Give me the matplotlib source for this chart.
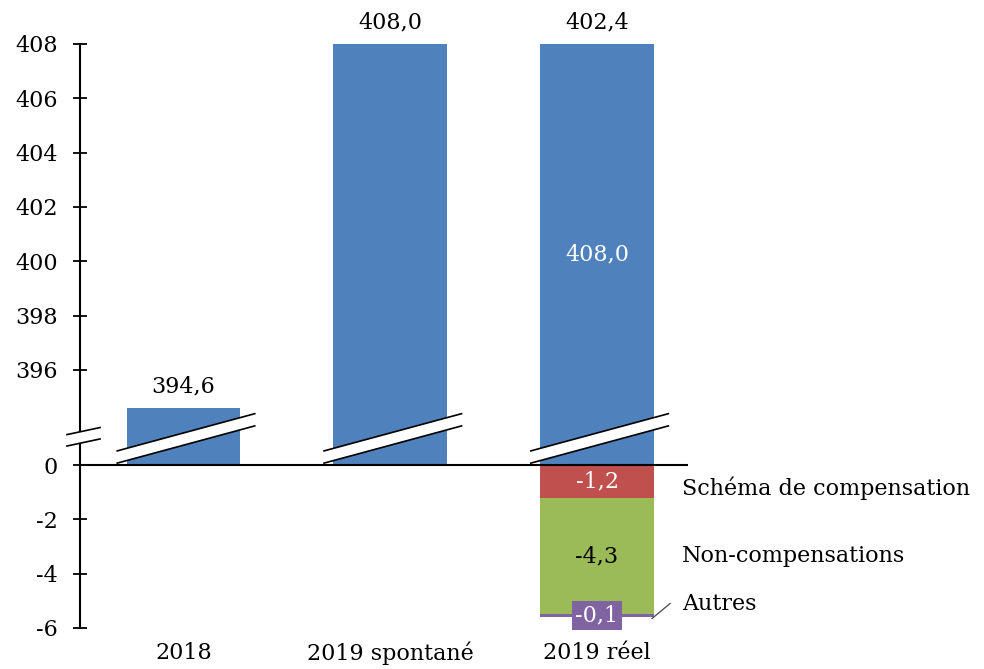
import matplotlib
matplotlib.use("Agg")

import matplotlib.pyplot as plt
from matplotlib.patches import Polygon

# ── data ─────────────────────────────────────────────────────────
categories = ["2018", "2019 spontané", "2019 réel"]
bar_tops = [394.6, 408.0, 408.0]          # blue bar heights (upper scale)
top_labels = ["394,6", "408,0", "402,4"]  # labels above bars
inner_label = "408,0"                     # white label inside 3rd bar

comp_names = ["Schéma de compensation", "Non-compensations", "Autres"]
comp_values = [-1.2, -4.3, -0.1]
comp_labels = ["-1,2", "-4,3", "-0,1"]

upper_ticks = [396, 398, 400, 402, 404, 406, 408]
lower_ticks = [0, -2, -4, -6]
BREAK = 392.5   # upper-scale value drawn at the zero line

# ── style ────────────────────────────────────────────────────────
BLUE = "#4F81BD"
COMP_COLORS = ["#C0504D", "#9BBB59", "#8064A2"]
COMP_TEXT = ["white", "black", "white"]
FONT = "DejaVu Serif"
FS = 16

plt.rcParams["font.family"] = FONT

fig = plt.figure(figsize=(9.84, 6.69), dpi=100)
ax = fig.add_axes([80 / 984, 1 - 628 / 669, (688 - 80) / 984, (628 - 44) / 669])

x = list(range(len(categories)))
width = 0.55
z_tops = [v - BREAK for v in bar_tops]

ax.bar(x, z_tops, width=width, color=BLUE, zorder=2)

# stacked negative components on the last bar
bottom = 0.0
for val, col, lab, tc in zip(comp_values, COMP_COLORS, comp_labels, COMP_TEXT):
    ax.bar(x[-1], val, width=width, bottom=bottom, color=col, zorder=2)
    mid = bottom + val / 2
    if lab == "-0,1":
        ax.text(x[-1], mid, lab, ha="center", va="center", color="white",
                fontsize=FS, zorder=5,
                bbox=dict(boxstyle="square,pad=0.15", fc=col, ec="none"))
    else:
        ax.text(x[-1], mid, lab, ha="center", va="center", color=tc,
                fontsize=FS, zorder=5)
    bottom += val

# component names at right
name_y = [-0.85, -3.35, -5.1]
for name, yy in zip(comp_names, name_y):
    ax.text(2.41, yy, name, ha="left", va="center", fontsize=FS, clip_on=False)
ax.plot([2.266, 2.353], [-5.65, -5.1], color="#555555", lw=1, clip_on=False)

# labels above bars
for xi, zt, lab in zip(x, z_tops, top_labels):
    ax.text(xi, zt + 0.4, lab, ha="center", va="bottom", fontsize=FS)
ax.text(x[-1], z_tops[-1] / 2, inner_label, ha="center", va="center",
        color="white", fontsize=FS, zorder=5)


# break marks: white band with dark edges
def break_mark(x0, x1, ylo0, ylo1, dy, lw=1.2):
    band = Polygon([(x0, ylo0), (x1, ylo1), (x1, ylo1 + dy), (x0, ylo0 + dy)],
                   closed=True, fc="white", ec="none", zorder=4, clip_on=False)
    ax.add_patch(band)
    ax.plot([x0, x1], [ylo0, ylo1], color="black", lw=lw, zorder=4, clip_on=False)
    ax.plot([x0, x1], [ylo0 + dy, ylo1 + dy], color="black", lw=lw, zorder=4,
            clip_on=False)


for xi in x:
    break_mark(xi - 0.32, xi + 0.345, 0.07, 1.44, 0.45)
break_mark(-0.563, -0.403, 0.70, 0.96, 0.42)

# axes
ax.set_xlim(-0.5, 2.44)
ax.set_ylim(-6, 408 - BREAK)
ax.axhline(0, color="black", lw=1.5, zorder=3)

yt = [t - BREAK for t in upper_ticks] + lower_ticks
ax.set_yticks(yt)
ax.set_yticklabels([str(t) for t in upper_ticks] + [str(t) for t in lower_ticks],
                   fontsize=FS)
ax.tick_params(axis="y", direction="inout", length=10, width=1.3, pad=11)
ax.set_xticks(x)
ax.set_xticklabels(categories, fontsize=FS)
ax.tick_params(axis="x", length=0, pad=10)

for side in ["top", "right", "bottom"]:
    ax.spines[side].set_visible(False)
ax.spines["left"].set_linewidth(1.5)

fig.savefig("out.png", dpi=100)
